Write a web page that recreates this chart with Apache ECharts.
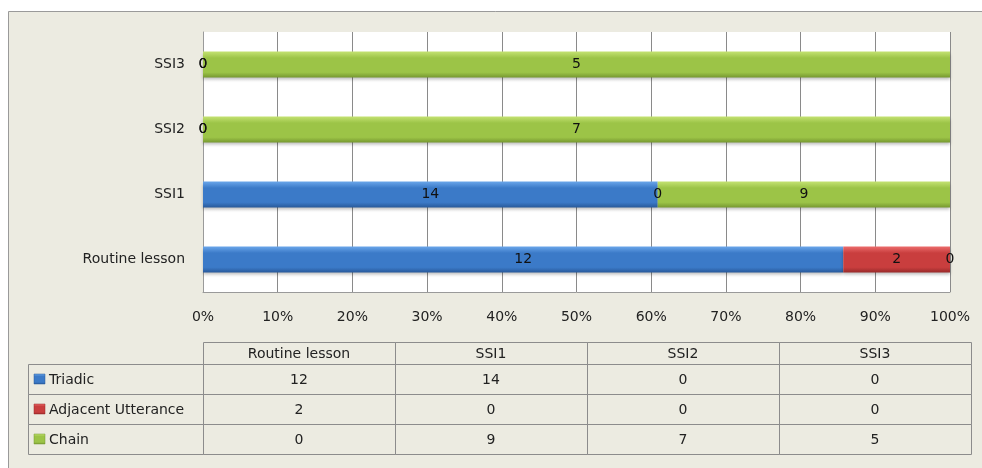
<!DOCTYPE html>
<html lang="en">
<head>
    <meta charset="utf-8">
    <title>Interaction patterns</title>
    <script src="https://cdn.jsdelivr.net/npm/echarts@6/dist/echarts.min.js"></script>
    <style>
        html, body { margin: 0; padding: 0; background: #fff; }
        #main { width: 982px; height: 468px; }
    </style>
</head>
<body>
<div id="main"></div>
<script>
    // data
    var categories = ['Routine lesson', 'SSI1', 'SSI2', 'SSI3'];
    var seriesNames = ['Triadic', 'Adjacent Utterance', 'Chain'];
    var triadic = [12, 14, 0, 0];
    var adjacent = [2, 0, 0, 0];
    var chain = [0, 9, 7, 5];
    var xTicks = [0, 10, 20, 30, 40, 50, 60, 70, 80, 90, 100];

    var counts = [triadic, adjacent, chain];
    var colors = [
        ['#6aa6ea', '#3b7ac8', '#28599a'],
        ['#ec6c6c', '#c93e3e', '#982a2a'],
        ['#c4e272', '#9cc447', '#769830']
    ];

    var totals = categories.map(function (c, i) {
        var s = 0;
        for (var k = 0; k < counts.length; k++) s += counts[k][i];
        return s;
    });

    function grad(c) {
        return new echarts.graphic.LinearGradient(0, 0, 0, 1, [
            {offset: 0, color: c[0]},
            {offset: 0.25, color: c[1]},
            {offset: 0.8, color: c[1]},
            {offset: 1, color: c[2]}
        ]);
    }

    var series = seriesNames.map(function (name, k) {
        return {
            name: name,
            type: 'bar',
            stack: 'all',
            barWidth: 26,
            itemStyle: {
                color: grad(colors[k]),
                shadowColor: 'rgba(0,0,0,0.25)',
                shadowBlur: 3,
                shadowOffsetY: 2
            },
            label: {
                show: true,
                position: 'inside',
                color: '#111',
                fontFamily: 'DejaVu Sans',
                fontSize: 14,
                formatter: function (p) { return counts[k][p.dataIndex]; }
            },
            data: counts[k].map(function (v, i) { return v / totals[i] * 100; })
        };
    });

    // data table under the chart
    var font = '14px "DejaVu Sans"';
    var tblLeft = 28, colLeft = 203, colW = 192, headTop = 342, headH = 22, rowH = 30;
    var lineCol = '#8c8c8c';
    var graphics = [{
        type: 'rect', silent: true, z: -10,
        shape: {x: 8.5, y: 11.5, width: 1000, height: 500},
        style: {fill: '#ecebe1', stroke: '#9a9a9a', lineWidth: 1}
    }];
    categories.forEach(function (c, i) {
        graphics.push({
            type: 'rect',
            shape: {x: colLeft + i * colW + 0.5, y: headTop + 0.5, width: colW, height: headH},
            style: {fill: 'none', stroke: lineCol, lineWidth: 1}
        });
        graphics.push({
            type: 'text',
            x: colLeft + i * colW + colW / 2, y: headTop + headH / 2 + 1,
            style: {text: c, font: font, fill: '#222', align: 'center', verticalAlign: 'middle'}
        });
    });
    seriesNames.forEach(function (name, k) {
        var y = headTop + headH + k * rowH;
        graphics.push({
            type: 'rect',
            shape: {x: tblLeft + 0.5, y: y + 0.5, width: colLeft - tblLeft, height: rowH},
            style: {fill: 'none', stroke: lineCol, lineWidth: 1}
        });
        graphics.push({
            type: 'rect',
            shape: {x: 34, y: y + 10, width: 11, height: 10},
            style: {fill: grad(colors[k]), stroke: colors[k][2], lineWidth: 0.5}
        });
        graphics.push({
            type: 'text',
            x: 49, y: y + rowH / 2 + 1,
            style: {text: name, font: font, fill: '#222', align: 'left', verticalAlign: 'middle'}
        });
        categories.forEach(function (c, i) {
            graphics.push({
                type: 'rect',
                shape: {x: colLeft + i * colW + 0.5, y: y + 0.5, width: colW, height: rowH},
                style: {fill: 'none', stroke: lineCol, lineWidth: 1}
            });
            graphics.push({
                type: 'text',
                x: colLeft + i * colW + colW / 2, y: y + rowH / 2 + 1,
                style: {text: String(counts[k][i]), font: font, fill: '#222', align: 'center', verticalAlign: 'middle'}
            });
        });
    });

    var myChart = echarts.init(document.getElementById('main'));
    var option = {
        animation: false,
        backgroundColor: '#fff',
        grid: {left: 203, top: 32, width: 747, height: 260, show: true, backgroundColor: '#fff', borderWidth: 0},
        xAxis: {
            type: 'value',
            min: xTicks[0],
            max: xTicks[xTicks.length - 1],
            interval: xTicks[1] - xTicks[0],
            axisLine: {show: true, lineStyle: {color: '#9a9a9a'}},
            axisTick: {show: false},
            splitLine: {show: true, lineStyle: {color: '#8a8a8a', width: 1}},
            axisLabel: {
                margin: 18,
                color: '#222',
                fontFamily: 'DejaVu Sans',
                fontSize: 14,
                formatter: '{value}%'
            }
        },
        yAxis: {
            type: 'category',
            data: categories,
            axisLine: {show: true, lineStyle: {color: '#9a9a9a'}},
            axisTick: {show: false},
            axisLabel: {margin: 18, color: '#222', fontFamily: 'DejaVu Sans', fontSize: 14}
        },
        series: series,
        graphic: graphics
    };
    myChart.setOption(option);
</script>
</body>
</html>
